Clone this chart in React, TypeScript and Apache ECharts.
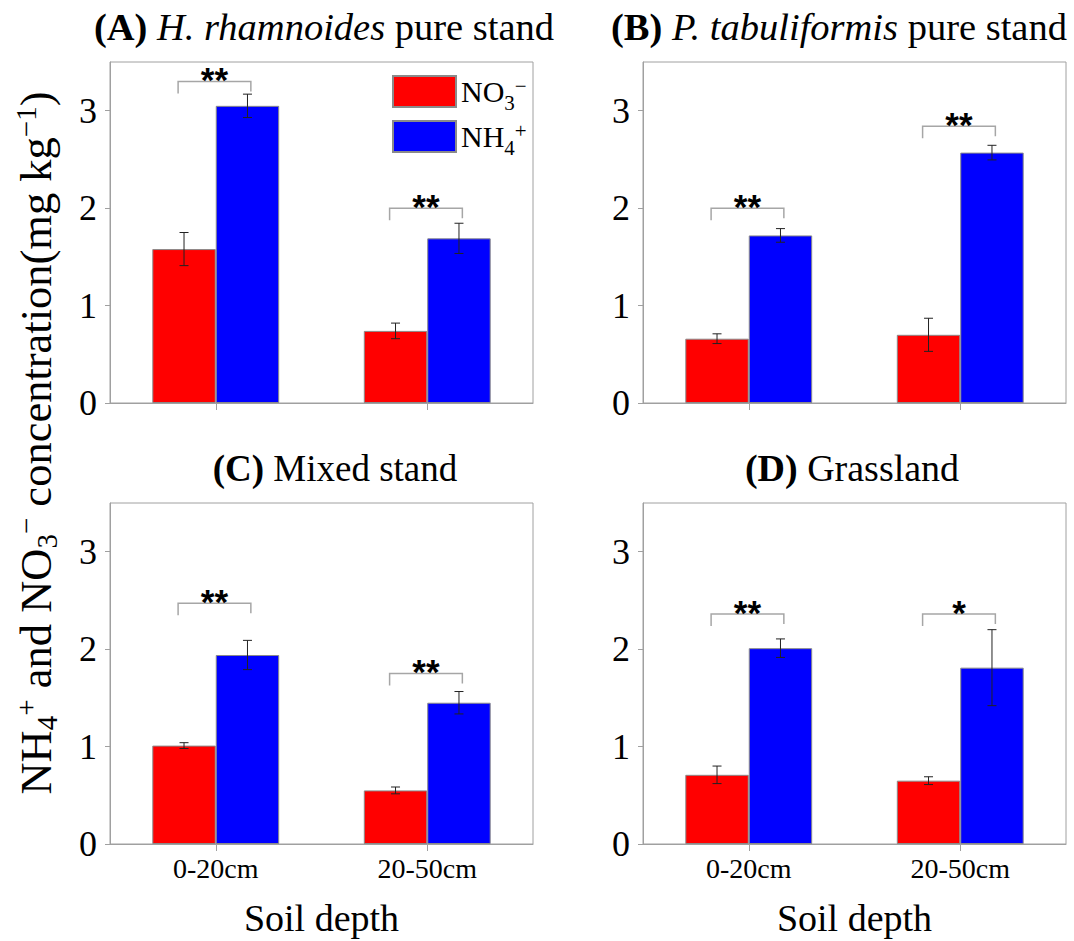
import React, { useEffect, useRef } from 'react';
import * as echarts from 'echarts';

const categories = ['0-20cm', '20-50cm'];
const yTicks = [0, 1, 2, 3];

// Panel A: H. rhamnoides pure stand
const no3A = [1.58, 0.74];
const no3ErrA = [0.17, 0.08];
const nh4A = [3.05, 1.69];
const nh4ErrA = [0.12, 0.155];
const sigYA = [3.3, 2.0];
const sigLabelA = ['**', '**'];

// Panel B: P. tabuliformis pure stand
const no3B = [0.66, 0.7];
const no3ErrB = [0.05, 0.17];
const nh4B = [1.72, 2.57];
const nh4ErrB = [0.07, 0.075];
const sigYB = [2.0, 2.84];
const sigLabelB = ['**', '**'];

// Panel C: Mixed stand
const no3C = [1.01, 0.55];
const no3ErrC = [0.03, 0.035];
const nh4C = [1.94, 1.45];
const nh4ErrC = [0.15, 0.115];
const sigYC = [2.47, 1.75];
const sigLabelC = ['**', '**'];

// Panel D: Grassland
const no3D = [0.71, 0.65];
const no3ErrD = [0.09, 0.04];
const nh4D = [2.01, 1.81];
const nh4ErrD = [0.095, 0.39];
const sigYD = [2.36, 2.36];
const sigLabelD = ['**', '*'];

const panels = [
  { no3: no3A, no3Err: no3ErrA, nh4: nh4A, nh4Err: nh4ErrA, sigY: sigYA, sigLabel: sigLabelA },
  { no3: no3B, no3Err: no3ErrB, nh4: nh4B, nh4Err: nh4ErrB, sigY: sigYB, sigLabel: sigLabelB },
  { no3: no3C, no3Err: no3ErrC, nh4: nh4C, nh4Err: nh4ErrC, sigY: sigYC, sigLabel: sigLabelC },
  { no3: no3D, no3Err: no3ErrD, nh4: nh4D, nh4Err: nh4ErrD, sigY: sigYD, sigLabel: sigLabelD },
];

const SERIF = 'Liberation Serif';
const SANS = 'Liberation Sans';

const gridLayout = [
  { left: 110, top: 62, width: 423, height: 341 },
  { left: 643, top: 62, width: 423, height: 341 },
  { left: 110, top: 503, width: 423, height: 341 },
  { left: 643, top: 503, width: 423, height: 341 },
];

function errorSeries(idx: number, vals: number[], errs: number[], sign: number) {
  return {
    type: 'custom',
    xAxisIndex: idx,
    yAxisIndex: idx,
    z: 5,
    silent: true,
    clip: false,
    encode: { x: 0, y: 1 },
    data: vals.map((v, j) => [j, v, errs[j]]),
    renderItem: (params: any, api: any) => {
      const j = api.value(0);
      const v = api.value(1);
      const e = api.value(2);
      const bw = api.size([1, 0])[0];
      const base = api.coord([j, v]);
      const cx = base[0] + sign * bw * 0.15;
      const yt = api.coord([j, v + e])[1];
      const yb = api.coord([j, v - e])[1];
      const cap = 4.5;
      const st = { stroke: '#222', lineWidth: 1 };
      return {
        type: 'group',
        children: [
          { type: 'line', shape: { x1: cx, y1: yt, x2: cx, y2: yb }, style: st },
          { type: 'line', shape: { x1: cx - cap, y1: yt, x2: cx + cap, y2: yt }, style: st },
          { type: 'line', shape: { x1: cx - cap, y1: yb, x2: cx + cap, y2: yb }, style: st },
        ],
      };
    },
  };
}

function bracketSeries(idx: number, ys: number[], labels: string[]) {
  return {
    type: 'custom',
    xAxisIndex: idx,
    yAxisIndex: idx,
    z: 6,
    silent: true,
    clip: false,
    encode: { x: 0, y: 1 },
    data: ys.map((y, j) => [j, y]),
    renderItem: (params: any, api: any) => {
      const j = api.value(0);
      const y = api.value(1);
      const bw = api.size([1, 0])[0];
      const p = api.coord([j, y]);
      const x1 = p[0] - 0.178 * bw;
      const x2 = p[0] + 0.166 * bw;
      const yt = p[1];
      return {
        type: 'group',
        children: [
          {
            type: 'polyline',
            shape: { points: [[x1, yt + 12], [x1, yt], [x2, yt], [x2, yt + 10]] },
            style: { stroke: '#a6a6a6', lineWidth: 1.5, fill: 'none' },
          },
          {
            type: 'text',
            x: (x1 + x2) / 2,
            y: yt - 2,
            style: {
              text: labels[params.dataIndex],
              fontFamily: SANS,
              fontWeight: 'bold',
              fontSize: 35,
              fill: '#000',
              align: 'center',
              verticalAlign: 'middle',
            },
          },
        ],
      };
    },
  };
}

export default function App() {
  const ref = useRef<HTMLDivElement>(null);
  useEffect(() => {
    document.body.style.margin = '0';
    if (!ref.current) return;
    const chart = echarts.init(ref.current, null, { renderer: 'svg' });

    const grids = gridLayout.map((g) => ({
      ...g,
      show: true,
      borderColor: '#a0a0a0',
      borderWidth: 1,
      backgroundColor: 'transparent',
    }));

    const xAxes = gridLayout.map((g, i) => ({
      type: 'category',
      gridIndex: i,
      data: categories,
      boundaryGap: true,
      axisLine: { show: true, lineStyle: { color: '#a0a0a0', width: 1 } },
      axisTick: { show: true, alignWithLabel: true, length: 7, lineStyle: { color: '#a0a0a0' } },
      axisLabel: {
        show: i >= 2,
        fontSize: 28,
        fontFamily: SERIF,
        color: '#000',
        margin: 10,
      },
      splitLine: { show: false },
      name: i >= 2 ? 'Soil depth' : '',
      nameLocation: 'middle',
      nameGap: 55,
      nameTextStyle: { fontSize: 38, fontFamily: SERIF, color: '#000' },
    }));

    const yAxes = gridLayout.map((g, i) => ({
      type: 'value',
      gridIndex: i,
      min: 0,
      max: 3.5,
      interval: 1,
      axisLine: { show: true, lineStyle: { color: '#a0a0a0', width: 1 } },
      axisTick: { show: true, length: 5, lineStyle: { color: '#a0a0a0' }, customValues: yTicks },
      axisLabel: {
        fontSize: 36,
        fontFamily: SERIF,
        color: '#000',
        margin: 13,
        customValues: yTicks,
        formatter: (v: number) => (Number.isInteger(v) ? String(v) : ''),
      },
      splitLine: { show: false },
    }));

    const series: any[] = [];
    panels.forEach((p, i) => {
      series.push({
        name: 'NO3',
        type: 'bar',
        xAxisIndex: i,
        yAxisIndex: i,
        data: p.no3,
        barWidth: '30%',
        barGap: '0%',
        itemStyle: { color: '#ff0000', borderColor: '#8a8a8a', borderWidth: 1 },
      });
      series.push({
        name: 'NH4',
        type: 'bar',
        xAxisIndex: i,
        yAxisIndex: i,
        data: p.nh4,
        barWidth: '30%',
        barGap: '0%',
        itemStyle: { color: '#0000ff', borderColor: '#8a8a8a', borderWidth: 1 },
      });
      series.push(errorSeries(i, p.no3, p.no3Err, -1));
      series.push(errorSeries(i, p.nh4, p.nh4Err, 1));
      series.push(bracketSeries(i, p.sigY, p.sigLabel));
    });

    const titleEl = (text: string, x: number, y: number, fs: number) => ({
      type: 'text',
      x,
      y,
      style: {
        text,
        rich: {
          b: { fontFamily: SERIF, fontSize: fs, fontWeight: 'bold', fill: '#000' },
          i: { fontFamily: SERIF, fontSize: fs, fontStyle: 'italic', fill: '#000' },
          r: { fontFamily: SERIF, fontSize: fs, fill: '#000' },
        },
        fontFamily: SERIF,
        fontSize: fs,
        fill: '#000',
        align: 'center',
        verticalAlign: 'middle',
      },
    });

    const yTitleRich = {
      n: { fontFamily: SERIF, fontSize: 44.5, lineHeight: 50, fill: '#000' },
      sub: { fontFamily: SERIF, fontSize: 29, lineHeight: 20, verticalAlign: 'bottom', fill: '#000' },
      sup: { fontFamily: SERIF, fontSize: 29, lineHeight: 20, verticalAlign: 'top', fill: '#000' },
    };

    chart.setOption({
      animation: false,
      backgroundColor: '#fff',
      grid: grids,
      xAxis: xAxes,
      yAxis: yAxes,
      legend: {
        data: ['NO3', 'NH4'],
        orient: 'vertical',
        left: 392,
        top: 70,
        padding: 0,
        itemWidth: 63,
        itemHeight: 31,
        itemGap: 2,
        icon: 'rect',
        selectedMode: false,
        formatter: (name: string) =>
          name === 'NO3' ? '{n|NO}{sub|3}{sup|\u2212}' : '{n|NH}{sub|4}{sup|+}',
        textStyle: {
          fontFamily: SERIF,
          color: '#000',
          rich: {
            n: { fontFamily: SERIF, fontSize: 30, lineHeight: 31, color: '#000' },
            sub: {
              fontFamily: SERIF,
              fontSize: 21,
              lineHeight: 10,
              padding: [22, 0, 0, 0],
              color: '#000',
            },
            sup: {
              fontFamily: SERIF,
              fontSize: 21,
              lineHeight: 10,
              padding: [0, 0, 12, 0],
              color: '#000',
            },
          },
        },
      },
      graphic: [
        titleEl('{b|(A)}{r| }{i|H. rhamnoides}{r| pure stand}', 324, 27, 38.5),
        titleEl('{b|(B)}{r| }{i|P. tabuliformis}{r| pure stand}', 839, 27, 38.5),
        titleEl('{b|(C)}{r| Mixed stand}', 335, 468, 37),
        titleEl('{b|(D)}{r| Grassland}', 852, 468, 38),
        {
          type: 'text',
          x: 36,
          y: 443,
          rotation: Math.PI / 2,
          style: {
            text:
              '{n|NH}{sub|4}{sup|+}{n| and NO}{sub|3}{sup|\u2212}{n| concentration(mg kg}{sup|\u22121}{n|)}',
            rich: yTitleRich,
            fontFamily: SERIF,
            fontSize: 44.5,
            fill: '#000',
            align: 'center',
            verticalAlign: 'middle',
          },
        },
      ],
      series,
    });

    return () => chart.dispose();
  }, []);

  return <div ref={ref} style={{ width: 1074, height: 941, position: 'fixed', left: 0, top: 0 }} />;
}
